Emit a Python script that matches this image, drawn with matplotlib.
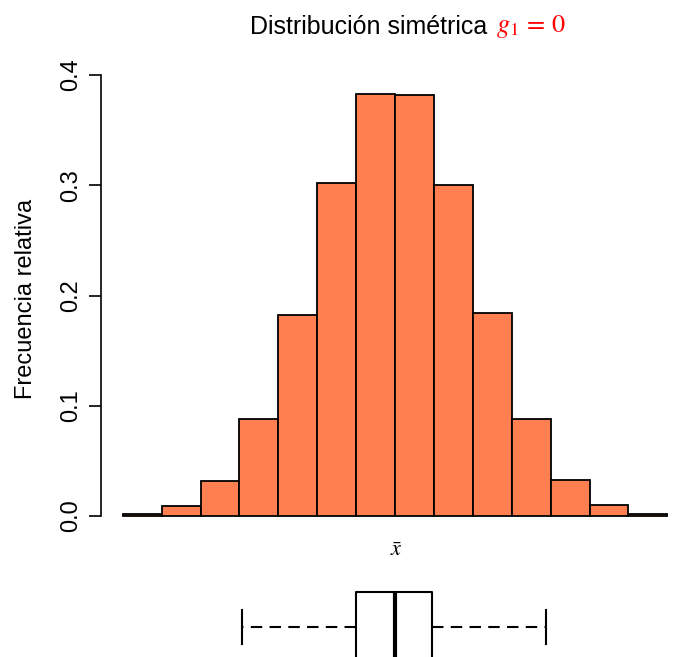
import matplotlib
matplotlib.use('Agg')
import matplotlib.pyplot as plt
import numpy as np

plt.rcParams['font.family'] = ['Liberation Sans', 'DejaVu Sans']

# datos del histograma (densidad por clase, ancho de clase 0.5)
bin_edges = [-3.5, -3.0, -2.5, -2.0, -1.5, -1.0, -0.5, 0.0, 0.5, 1.0, 1.5, 2.0, 2.5, 3.0, 3.5]
densidades = [0.002, 0.009, 0.032, 0.088, 0.182, 0.302, 0.383,
              0.382, 0.300, 0.184, 0.088, 0.033, 0.010, 0.002]
yticks = [0.0, 0.1, 0.2, 0.3, 0.4]

# resumen del diagrama de caja
caja = {'whislo': -1.97, 'q1': -0.50, 'med': 0.0, 'q3': 0.48, 'whishi': 1.94}

W, H = 677, 657
fig = plt.figure(figsize=(W / 100, H / 100), dpi=100)

# eje del histograma (en pixeles de la figura)
px_unit = 77.8
x0, x1 = -3.78, 3.78
left_px = 101
y_lo, y_hi = -0.016, 0.41
py_unit = 1102.5
bot_px = 516 - y_lo * py_unit
top_px = 516 - y_hi * py_unit
ax = fig.add_axes([left_px / W, (H - bot_px) / H,
                   (x1 - x0) * px_unit / W, (bot_px - top_px) / H])

anchos = np.diff(bin_edges)
ax.bar(bin_edges[:-1], densidades, width=anchos, align='edge',
       color='#FF7F50', edgecolor='black', linewidth=1.3)
ax.set_xlim(x0, x1)
ax.set_ylim(y_lo, y_hi)
for s in ['top', 'right', 'bottom']:
    ax.spines[s].set_visible(False)
ax.spines['left'].set_bounds(0, 0.4)
ax.spines['left'].set_linewidth(1.2)
ax.set_xticks([])
ax.set_yticks(yticks)
ax.set_yticklabels(['%.1f' % v for v in yticks], rotation=90, va='center', fontsize=17)
ax.tick_params(axis='y', length=8.5, width=1.2, pad=5)
ax.set_ylabel('Frecuencia relativa', fontsize=17, labelpad=17)
ax.patch.set_visible(False)

# etiqueta x
fig.text(396 / W, 1 - 550 / H, r'$\bar{x}$', ha='center', va='center',
         fontsize=16, math_fontfamily='stix')

# titulo en dos partes (negro + rojo)
t1 = fig.text(250 / W, 1 - 27 / H, 'Distribución simétrica', ha='left',
              va='center', fontsize=18)
fig.canvas.draw()
bb = t1.get_window_extent()
fig.text((bb.x1 + 9) / W, 1 - 27 / H, r'$g_1\,=\,0$', ha='left', va='center',
         fontsize=19, color='red', math_fontfamily='stix')

# diagrama de caja debajo
bx_top, bx_bot = 580, 674
ax2 = fig.add_axes([left_px / W, (H - bx_bot) / H,
                    (x1 - x0) * px_unit / W, (bx_bot - bx_top) / H])
ax2.bxp([caja], positions=[0], widths=1.49, showfliers=False,
        orientation='horizontal', capwidths=0.72,
        boxprops=dict(color='black', linewidth=1.5),
        whiskerprops=dict(color='black', linewidth=1.5, linestyle=(0, (5.5, 3.5))),
        capprops=dict(color='black', linewidth=1.5),
        medianprops=dict(color='black', linewidth=3))
ax2.set_xlim(x0, x1)
ax2.set_ylim(-1, 1)
ax2.axis('off')

fig.savefig('out.png', dpi=100)
